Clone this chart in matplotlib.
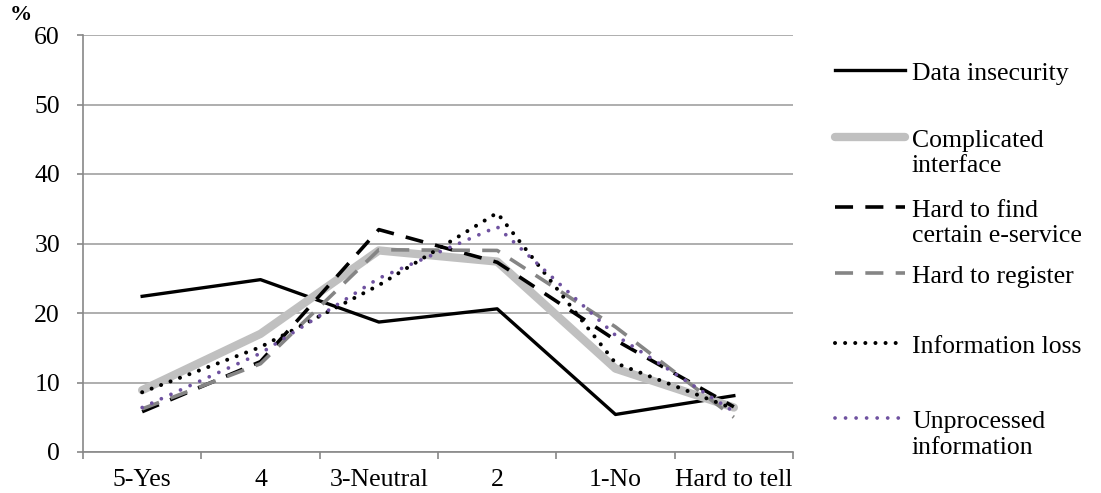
import matplotlib
matplotlib.use("Agg")
import matplotlib.pyplot as plt
from matplotlib.lines import Line2D

categories = ["5-Yes", "4", "3-Neutral", "2", "1-No", "Hard to tell"]
data_insecurity = [22.4, 24.8, 18.7, 20.6, 5.4, 8.1]
complicated_interface = [8.9, 17.0, 29.0, 27.4, 12.0, 6.4]
hard_to_find = [5.8, 13.0, 32.0, 27.3, 16.1, 6.5]
hard_to_register = [6.2, 12.7, 29.1, 29.0, 18.0, 5.0]
information_loss = [8.6, 15.1, 24.0, 34.4, 12.8, 6.2]
unprocessed_information = [6.4, 14.2, 25.0, 32.4, 16.8, 5.8]
y_ticks = [0, 10, 20, 30, 40, 50, 60]
legend_labels = [["Data insecurity"], ["Complicated", "interface"],
                 ["Hard to find", "certain e-service"], ["Hard to register"],
                 ["Information loss"], ["Unprocessed", "information"]]

plt.rcParams['font.family'] = ['Liberation Serif', 'DejaVu Serif']
FS = 18.5

fig = plt.figure(figsize=(11.01, 4.93), dpi=100)
W, H = 1101, 493
ax = fig.add_axes([83 / W, (H - 452) / H, (793 - 83) / W, (452 - 35) / H])

x = list(range(len(categories)))

styles = [
    dict(color="black", lw=2.4, ls="-"),
    dict(color="#c0c0c0", lw=6.0, ls="-", solid_joinstyle="round", solid_capstyle="round"),
    dict(color="black", lw=2.6, ls=(0, (5.0, 3.4))),
    dict(color="#858585", lw=2.6, ls=(0, (5.0, 3.4))),
    dict(color="black", lw=2.9, ls=(0, (0.01, 2.5)), dash_capstyle="round"),
    dict(color="#6f52a0", lw=2.7, ls=(0, (0.01, 2.8)), dash_capstyle="round"),
]
values = [data_insecurity, complicated_interface, hard_to_find,
          hard_to_register, information_loss, unprocessed_information]

for vals, st in zip(values, styles):
    ax.plot(x, vals, **st)

ax.set_xlim(-0.5, len(categories) - 0.5)
ax.set_ylim(0, 60)
ax.set_yticks(y_ticks)
ax.set_yticklabels([str(v) for v in y_ticks], fontsize=FS)
ax.set_xticks(x)
ax.set_xticklabels(categories, fontsize=FS)
ax.set_xticks([i - 0.5 for i in range(len(categories) + 1)], minor=True)
ax.tick_params(axis='x', which='major', length=0, pad=12)
ax.tick_params(axis='x', which='minor', length=5, color="#888888", direction='out', width=1.2)
ax.tick_params(axis='y', length=4.5, color="#888888", direction='out', pad=12, width=1.2)
ax.grid(axis='y', color="#999999", lw=1.1)
ax.set_axisbelow(True)
for s in ["top", "right"]:
    ax.spines[s].set_visible(False)
for s in ["left", "bottom"]:
    ax.spines[s].set_color("#888888")
    ax.spines[s].set_linewidth(1.2)

fig.text(21 / W, 1 - 15 / H, "%", fontsize=16, fontweight="bold", ha="center", va="center")

# manual legend
handle_y = [70, 136.7, 206.7, 273.3, 342.7, 418.3]
x0, x1, xt = 835, 905, 912
for lines, st, yy in zip(legend_labels, styles, handle_y):
    yf = 1 - yy / H
    ln = Line2D([x0 / W, x1 / W], [yf, yf], transform=fig.transFigure, **st)
    fig.add_artist(ln)
    for k, txt in enumerate(lines):
        base = yy + 10 + 25.5 * k
        fig.text(xt / W, 1 - base / H, txt, fontsize=FS, ha="left", va="baseline")

fig.savefig("out.png", dpi=100)
